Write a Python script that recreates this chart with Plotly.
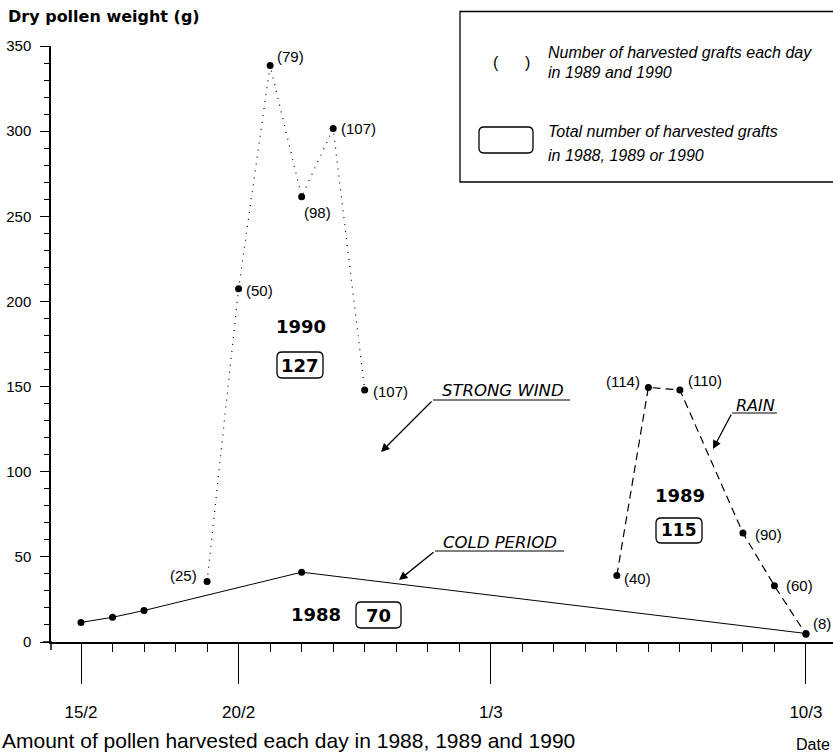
import plotly.graph_objects as go

# ---------------- data ----------------
day_ticks = [0, 5, 13, 23]
day_tick_labels = ["15/2", "20/2", "1/3", "10/3"]
minor_days = list(range(0, 24))

days_1988 = [0, 1, 2, 7, 23]
weight_1988 = [11.5, 14.5, 18.5, 41, 5]

days_1989 = [17, 18, 19, 21, 22, 23]
weight_1989 = [39, 149.5, 148, 64, 33, 4.5]
grafts_1989 = [40, 114, 110, 90, 60, 8]

days_1990 = [4, 5, 6, 7, 8, 9]
weight_1990 = [35.5, 207.5, 338.5, 261.5, 301.5, 148]
grafts_1990 = [25, 50, 79, 98, 107, 107]

total_1988 = 70
total_1989 = 115
total_1990 = 127

# label placement (style only): (xanchor, xshift, yshift)
offsets_1990 = [("right", -8, 6), ("left", 5, -2), ("left", 5, 9),
                ("left", 0, -16), ("left", 6, 0), ("left", 6, -2)]
offsets_1989 = [("left", 5, -3), ("right", -6, 6), ("left", 6, 9),
                ("left", 10, -1), ("left", 10, 0), ("left", 5, 11)]

# ---------------- layout geometry ----------------
W, H = 833, 753
L, T = 51, 46
PW, PH = 782, 596
X0_PX, DAY_PX = 81, 31.52


def pxx(p):
    return (p - L) / PW


def pxy(p):
    return (T + PH - p) / PH


def rounded(x0, y0, x1, y1, r=5):
    a, b, c, d = pxx(x0), pxy(y1), pxx(x1), pxy(y0)
    rx, ry = r / PW, r / PH
    return (f"M {a+rx},{b} L {c-rx},{b} Q {c},{b} {c},{b+ry} "
            f"L {c},{d-ry} Q {c},{d} {c-rx},{d} L {a+rx},{d} "
            f"Q {a},{d} {a},{d-ry} L {a},{b+ry} Q {a},{b} {a+rx},{b} Z")


SANS = "Liberation Sans, Arial, sans-serif"
BOLD = "DejaVu Sans, sans-serif"

fig = go.Figure()

fig.add_trace(go.Scatter(x=days_1988, y=weight_1988, mode="lines+markers",
                         line=dict(color="black", width=1),
                         marker=dict(color="black", size=7), cliponaxis=False,
                         showlegend=False, name="1988"))
fig.add_trace(go.Scatter(x=days_1990, y=weight_1990, mode="lines+markers",
                         line=dict(color="black", width=1.2, dash="1px,6px"),
                         marker=dict(color="black", size=7), cliponaxis=False,
                         showlegend=False, name="1990"))
fig.add_trace(go.Scatter(x=days_1989, y=weight_1989, mode="lines+markers",
                         line=dict(color="black", width=1.2, dash="8px,5px"),
                         marker=dict(color="black", size=7), cliponaxis=False,
                         showlegend=False, name="1989"))

ann = []
for d, w, g, (xa, xs, ys) in zip(days_1990, weight_1990, grafts_1990, offsets_1990):
    ann.append(dict(x=d, y=w, xref="x", yref="y", text=f"({g})", showarrow=False,
                    xanchor=xa, yanchor="middle", xshift=xs, yshift=ys,
                    font=dict(family=SANS, size=15, color="black")))
for d, w, g, (xa, xs, ys) in zip(days_1989, weight_1989, grafts_1989, offsets_1989):
    ann.append(dict(x=d, y=w, xref="x", yref="y", text=f"({g})", showarrow=False,
                    xanchor=xa, yanchor="middle", xshift=xs, yshift=ys,
                    font=dict(family=SANS, size=15, color="black")))


def ptext(text, x, y, size, family=SANS, xanchor="center", weight="normal", style="normal",
          yanchor="middle"):
    ann.append(dict(x=pxx(x), y=pxy(y), xref="paper", yref="paper", text=text,
                    showarrow=False, xanchor=xanchor, yanchor=yanchor,
                    font=dict(family=family, size=size, color="black",
                              weight=weight, style=style)))


# year labels and totals
ptext("1990", 301, 326, 18, BOLD, weight="bold")
ptext("1989", 680, 495, 18, BOLD, weight="bold")
ptext("1988", 316, 614, 18, BOLD, weight="bold")
ptext(str(total_1990), 300, 365, 18, BOLD, weight="bold")
ptext(str(total_1988), 378.5, 615, 18, BOLD, weight="bold")
ptext(str(total_1989), 679, 530, 17, BOLD, weight="bold")

# title, caption, date
ptext("Dry pollen weight (g)", 6, 17, 16, BOLD, xanchor="left", weight="bold")
ptext("Amount of pollen harvested each day in 1988, 1989 and 1990", 0, 754, 21,
      xanchor="left", yanchor="bottom")
ptext("Date", 832, 744, 16, xanchor="right")

# legend box contents
ptext("(\u00a0\u00a0\u00a0\u00a0\u00a0\u00a0)", 511, 63, 16)
ptext("Number of harvested grafts each day", 546, 52, 16, xanchor="left", style="italic")
ptext("in 1989 and 1990", 546, 72, 16, xanchor="left", style="italic")
ptext("Total number of harvested grafts", 546, 132, 16, xanchor="left", style="italic")
ptext("in 1988, 1989 or 1990", 546, 155, 16, xanchor="left", style="italic")

# event annotations
ptext("STRONG WIND", 502.5, 390, 16.5, BOLD, style="italic")
ptext("RAIN", 755, 405, 16, BOLD, style="italic")
ptext("COLD PERIOD", 500, 542, 16.5, BOLD, style="italic")


def arrow(tail, tip):
    ann.append(dict(x=pxx(tip[0]), y=pxy(tip[1]), xref="paper", yref="paper",
                    ax=tail[0] - tip[0], ay=tail[1] - tip[1], text="",
                    showarrow=True, arrowhead=2, arrowsize=1.3, arrowwidth=1.3,
                    arrowcolor="black"))


arrow((433, 400), (381, 452))
arrow((732, 413), (713, 449))
arrow((435, 551), (399, 580))

shapes = []


def pline(x0, y0, x1, y1, w=1.2):
    shapes.append(dict(type="line", xref="paper", yref="paper",
                       x0=pxx(x0), y0=pxy(y0), x1=pxx(x1), y1=pxy(y1),
                       line=dict(color="black", width=w)))


pline(433, 400, 570, 400)
pline(732, 413, 777, 413)
pline(435, 551, 564, 551)
pline(43, 642, 52, 642, 1.5)      # x axis stub left of y axis
pline(51, 642, 51, 650, 1.5)      # y axis stub below x axis

shapes.append(dict(type="rect", xref="paper", yref="paper",
                   x0=pxx(460), y0=pxy(182), x1=pxx(845), y1=pxy(11.5),
                   line=dict(color="black", width=1.3)))
for box in [(479, 127, 533, 153), (277, 352, 323, 378), (356, 602, 401, 628), (656, 518, 702, 543)]:
    shapes.append(dict(type="path", xref="paper", yref="paper", path=rounded(*box),
                       line=dict(color="black", width=1.3)))

fig.update_layout(
    width=W, height=H,
    margin=dict(l=L, r=W - L - PW, t=T, b=H - T - PH),
    paper_bgcolor="white", plot_bgcolor="white",
    annotations=ann, shapes=shapes,
    xaxis=dict(range=[(L - X0_PX) / DAY_PX, (L + PW - X0_PX) / DAY_PX],
               showgrid=False, zeroline=False, showline=True, linecolor="black", linewidth=1.5,
               tickmode="array", tickvals=day_ticks, ticktext=day_tick_labels,
               ticks="outside", ticklen=40, tickwidth=1.3, tickcolor="black",
               ticklabelstandoff=14,
               tickfont=dict(family=SANS, size=17, color="black"),
               minor=dict(tickmode="array", tickvals=minor_days, ticks="outside",
                          ticklen=8, tickwidth=1.2, tickcolor="black", showgrid=False)),
    yaxis=dict(range=[0, 350], showgrid=False, zeroline=False, showline=True,
               linecolor="black", linewidth=1.5,
               tickmode="array", tickvals=list(range(0, 351, 50)),
               ticks="outside", ticklen=9, tickwidth=1.3, tickcolor="black",
               ticklabelstandoff=6,
               tickfont=dict(family=SANS, size=15, color="black"),
               minor=dict(tickmode="linear", tick0=0, dtick=10, ticks="outside",
                          ticklen=5, tickwidth=1.1, tickcolor="black", showgrid=False)),
)

fig.write_html("out.html", config={"displayModeBar": False},
               post_script="document.body.style.margin='0px';document.body.style.overflow='hidden';")
